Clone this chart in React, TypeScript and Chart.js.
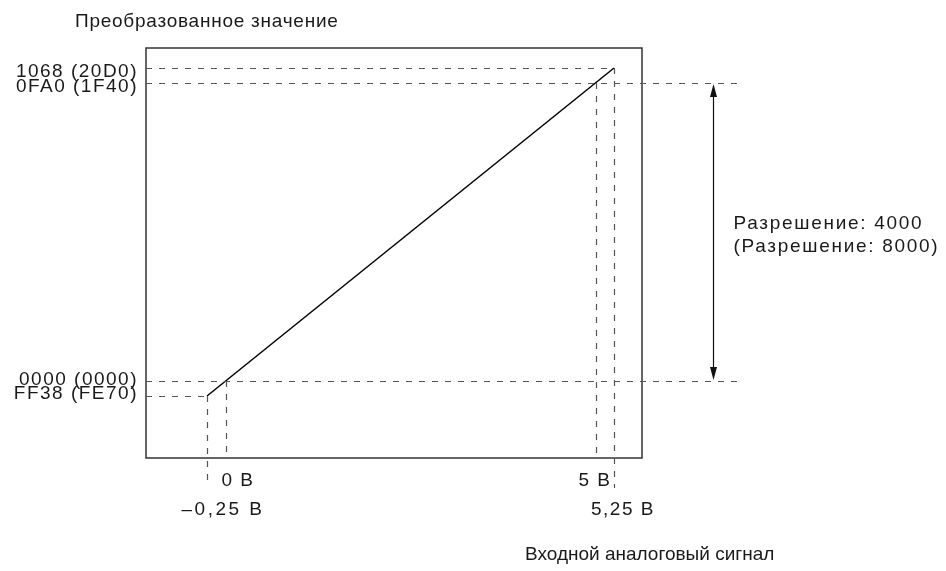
import React, { useEffect, useRef } from "react";
import { Chart, registerables } from "chart.js";

Chart.register(...registerables);

// ---- data ----
const lineVolts = [-0.25, 5.25];
const lineValues = [-200, 4200];

const yTickValues = [4200, 4000, 0, -200];
const yTickLabels = ["1068 (20D0)", "0FA0 (1F40)", "0000 (0000)", "FF38 (FE70)"];

const xTickValues = [-0.25, 0, 5, 5.25];
const xTickLabels = ["\u20130,25 В", "0 В", "5 В", "5,25 В"];

const yAxisTitle = "Преобразованное значение";
const xAxisTitle = "Входной аналоговый сигнал";
const resolutionLines = ["Разрешение: 4000", "(Разрешение: 8000)"];

// span of the resolution arrow (values) and its x position (volts)
const resolutionFrom = 0;
const resolutionTo = 4000;
const resolutionX = 6.59;
const guideExtendX = 7.0;

const FAMILY = "'Liberation Sans', Arial, sans-serif";
const TEXT = "#1a1a1a";
const DASH = "#555";

const overlayPlugin = {
  id: "overlay",
  afterDatasetsDraw(chart: any) {
    const { ctx, chartArea: a, scales } = chart;
    const xs = scales.x;
    const ys = scales.y;
    const X = (v: number) => xs.getPixelForValue(v);
    const Y = (v: number) => ys.getPixelForValue(v);

    ctx.save();
    // box
    ctx.strokeStyle = "#333";
    ctx.lineWidth = 1.5;
    ctx.setLineDash([]);
    ctx.strokeRect(a.left, a.top, a.right - a.left, a.bottom - a.top);

    // dashed guides
    ctx.strokeStyle = DASH;
    ctx.lineWidth = 1.2;
    ctx.setLineDash([6, 7]);
    const hline = (yv: number, x1: number, x2: number) => {
      ctx.beginPath();
      ctx.moveTo(x1, Math.round(Y(yv)) + 0.5);
      ctx.lineTo(x2, Math.round(Y(yv)) + 0.5);
      ctx.stroke();
    };
    const vline = (xv: number, y1: number, y2: number) => {
      ctx.beginPath();
      ctx.moveTo(Math.round(X(xv)) + 0.5, y1);
      ctx.lineTo(Math.round(X(xv)) + 0.5, y2);
      ctx.stroke();
    };
    hline(yTickValues[0], a.left, X(xTickValues[3]));
    hline(yTickValues[1], a.left, X(guideExtendX));
    hline(yTickValues[2], a.left, X(guideExtendX));
    hline(yTickValues[3], a.left, X(xTickValues[0]));

    vline(xTickValues[0], Y(yTickValues[3]), a.bottom + 22);
    vline(xTickValues[1], Y(yTickValues[2]), a.bottom);
    vline(xTickValues[2], Y(yTickValues[1]), a.bottom);
    vline(xTickValues[3], Y(yTickValues[0]), a.bottom + 30);

    // arrow
    ctx.setLineDash([]);
    ctx.strokeStyle = "#111";
    ctx.fillStyle = "#111";
    ctx.lineWidth = 1.2;
    const ax = Math.round(X(resolutionX)) + 0.5;
    const ayTop = Y(resolutionTo) + 1;
    const ayBot = Y(resolutionFrom) - 1;
    ctx.beginPath();
    ctx.moveTo(ax, ayTop + 8);
    ctx.lineTo(ax, ayBot - 8);
    ctx.stroke();
    ctx.beginPath();
    ctx.moveTo(ax, ayTop);
    ctx.lineTo(ax - 3.5, ayTop + 13);
    ctx.lineTo(ax + 3.5, ayTop + 13);
    ctx.closePath();
    ctx.fill();
    ctx.beginPath();
    ctx.moveTo(ax, ayBot);
    ctx.lineTo(ax - 3.5, ayBot - 13);
    ctx.lineTo(ax + 3.5, ayBot - 13);
    ctx.closePath();
    ctx.fill();

    // text
    const c = ctx as any;
    ctx.fillStyle = TEXT;
    ctx.font = "19px " + FAMILY;
    c.letterSpacing = "1.5px";
    ctx.textBaseline = "middle";
    ctx.textAlign = "right";
    const yShift = [4, 4, -1, -2];
    yTickValues.forEach((v, i) => {
      ctx.fillText(yTickLabels[i], a.left - 8, Y(v) + yShift[i]);
    });

    ctx.textBaseline = "alphabetic";
    const row1 = a.bottom + 28;
    const row2 = a.bottom + 57;
    ctx.textAlign = "left";
    ctx.fillText(xTickLabels[1], X(xTickValues[1]) - 4, row1);
    ctx.textAlign = "right";
    ctx.fillText(xTickLabels[2], X(xTickValues[2]) + 16, row1);
    ctx.textAlign = "left";
    ctx.fillText(xTickLabels[3], X(xTickValues[3]) - 23, row2);
    c.letterSpacing = "2.5px";
    ctx.textAlign = "center";
    ctx.fillText(xTickLabels[0], X(xTickValues[0]) + 16, row2);

    // resolution label
    c.letterSpacing = "1.7px";
    ctx.textAlign = "left";
    ctx.fillText(resolutionLines[0], ax + 20, 229);
    ctx.fillText(resolutionLines[1], ax + 20, 252);

    // axis titles
    c.letterSpacing = "0.75px";
    ctx.fillText(yAxisTitle, 75, 27);
    c.letterSpacing = "0px";
    ctx.fillText(xAxisTitle, 525, 560);
    ctx.restore();
  },
};

export default function App() {
  const ref = useRef<HTMLCanvasElement | null>(null);
  useEffect(() => {
    if (!ref.current) return;
    const chart = new Chart(ref.current, {
      type: "scatter",
      data: {
        datasets: [
          {
            data: lineVolts.map((x, i) => ({ x, y: lineValues[i] })),
            showLine: true,
            borderColor: "#000",
            borderWidth: 1.5,
            pointRadius: 0,
            fill: false,
          },
        ],
      },
      options: {
        responsive: false,
        animation: false,
        devicePixelRatio: 1,
        layout: { padding: { left: 146, top: 48, right: 304, bottom: 113 } },
        plugins: { legend: { display: false }, tooltip: { enabled: false }, title: { display: false } },
        scales: {
          x: { type: "linear", display: false, min: -1.0743, max: 5.628 },
          y: { type: "linear", display: false, min: -1031.7, max: 4468.3 },
        },
      },
      plugins: [overlayPlugin],
    });
    return () => chart.destroy();
  }, []);
  return (
    <div style={{ position: "fixed", left: 0, top: 0, width: 946, height: 571, background: "#fff" }}>
      <canvas ref={ref} width={946} height={571} style={{ width: 946, height: 571, display: "block" }} />
    </div>
  );
}
